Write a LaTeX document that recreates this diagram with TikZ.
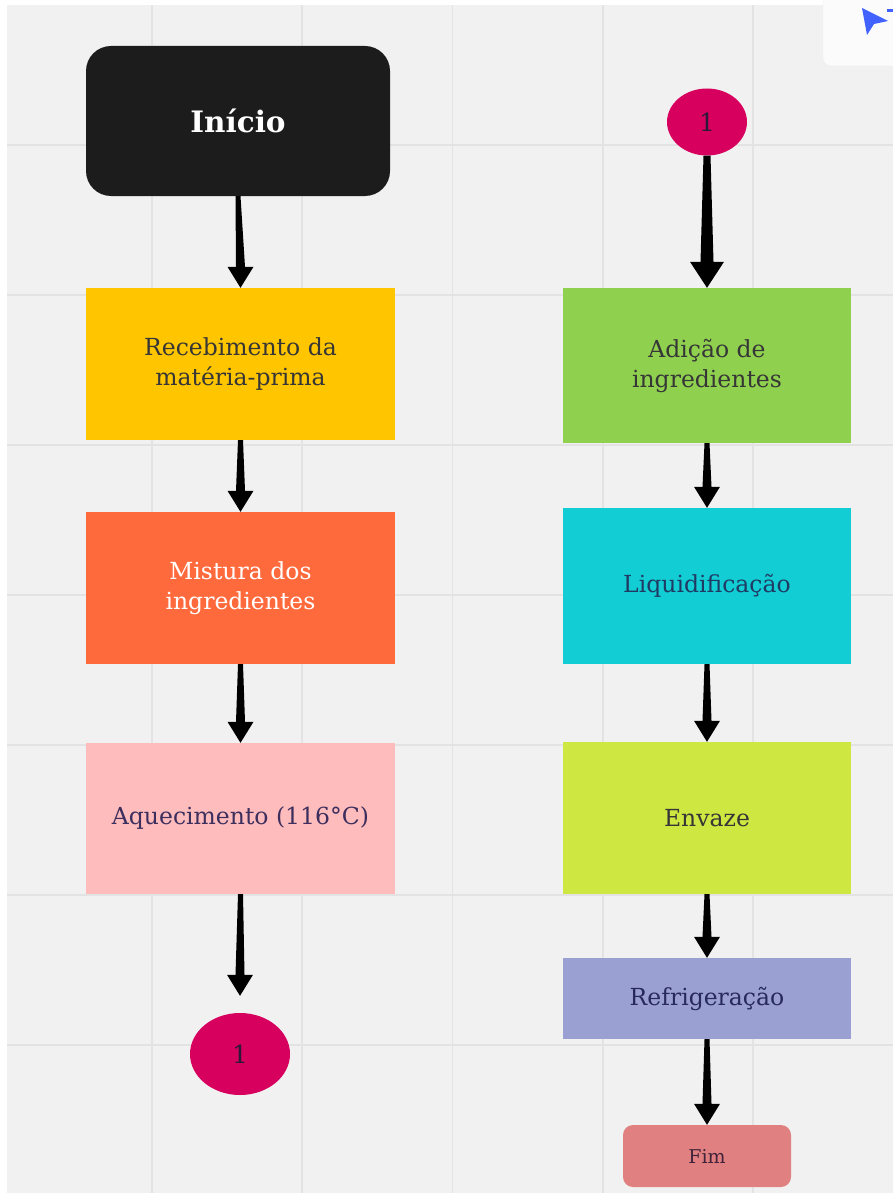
\documentclass[tikz,border=0pt]{standalone}
\usepackage{fontspec}
\setmainfont{DejaVu Serif}
\usetikzlibrary{shapes.geometric}

\definecolor{canvas}{HTML}{F1F1F1}
\definecolor{gridline}{HTML}{E3E3E3}
\definecolor{panel}{HTML}{FBFBFB}
\definecolor{cursorblue}{HTML}{4262FF}
\definecolor{cStart}{HTML}{1C1C1C}
\definecolor{cRec}{HTML}{FFC600}
\definecolor{cMix}{HTML}{FF6A3D}
\definecolor{cHeat}{HTML}{FFBCBC}
\definecolor{cLink}{HTML}{D8005F}
\definecolor{cAdd}{HTML}{8FD14F}
\definecolor{cLiq}{HTML}{12CDD4}
\definecolor{cFill}{HTML}{CEE741}
\definecolor{cCool}{HTML}{9AA0D2}
\definecolor{cEnd}{HTML}{E08080}
\definecolor{tDark}{HTML}{363636}
\definecolor{tPurple}{HTML}{3C2F5E}
\definecolor{tNavy}{HTML}{1F3B63}
\definecolor{tIndigo}{HTML}{28295C}
\definecolor{tPlum}{HTML}{40223A}
\definecolor{tLink}{HTML}{2A1A3A}

\tikzset{
  flowtail/.store in=\flowtail, flowneck/.store in=\flowneck,
  flowhead/.store in=\flowhead, flowlen/.store in=\flowlen,
  flowtail=2.5pt, flowneck=4.5pt, flowhead=13pt, flowlen=21pt,
  % tapered arrow: narrow tail, widening shaft, triangular head
  flow/.style={to path={
    ([xshift=-\flowtail]\tikztostart) -- ([xshift=\flowtail]\tikztostart)
    -- ([xshift=\flowneck,yshift=\flowlen]\tikztotarget)
    -- ([xshift=\flowhead,yshift=\flowlen]\tikztotarget)
    -- (\tikztotarget)
    -- ([xshift=-\flowhead,yshift=\flowlen]\tikztotarget)
    -- ([xshift=-\flowneck,yshift=\flowlen]\tikztotarget) -- cycle}},
  stepbox/.style={rectangle, inner sep=0pt, align=center,
    font=\fontsize{23.5}{30}\selectfont},
  linkdot/.style={ellipse, inner sep=0pt, fill=cLink, text=tLink,
    font=\fontsize{25}{28}\selectfont},
}

\begin{document}
\begin{tikzpicture}[x=1pt,y=-1pt]
\useasboundingbox (0,0) rectangle (893,1193);
\clip (0,0) rectangle (893,1193);

% board background and grid
\fill[white] (0,0) rectangle (893,1193);
\fill[canvas] (7,5) rectangle (893,1193);
\foreach \gx in {152,302,452.5,603,753}
  \draw[gridline, line width=1.2pt] (\gx,5) -- (\gx,1193);
\foreach \gy in {145,295,445,595,745,895,1045}
  \draw[gridline, line width=1.2pt] (7,\gy) -- (893,\gy);

% toolbar corner
\fill[panel, draw=gridline!60, rounded corners=8pt] (823,-12) rectangle (905,66);
\fill[cursorblue] (862,8) -- (888,21) -- (874,24) -- (867,35) -- cycle;
\fill[cursorblue] (887,9) rectangle (895,12);

% left column
\node[stepbox, rounded corners=25pt, fill=cStart, text=white,
  minimum width=304pt, minimum height=150pt,
  font=\fontsize{29.5}{36}\selectfont\bfseries] (ini) at (238,121) {Início};
\node[stepbox, fill=cRec, text=tDark, minimum width=309pt, minimum height=152pt]
  (rec) at (240.5,364) {Recebimento da\\matéria-prima};
\node[stepbox, fill=cMix, text=white, minimum width=309pt, minimum height=152pt]
  (mix) at (240.5,588) {Mistura dos\\ingredientes};
\node[stepbox, fill=cHeat, text=tPurple, minimum width=309pt, minimum height=151pt]
  (heat) at (240.5,818.5) {Aquecimento (116°C)};
\node[linkdot, minimum width=100pt, minimum height=82pt] (c1) at (240,1054) {1};
\coordinate (c1in) at ([yshift=17pt]c1.north);

% right column
\node[linkdot, minimum width=80pt, minimum height=67pt] (c2) at (707,122) {1};
\node[stepbox, fill=cAdd, text=tDark, minimum width=288pt, minimum height=155pt]
  (add) at (707,365.5) {Adição de\\ingredientes};
\node[stepbox, fill=cLiq, text=tNavy, minimum width=288pt, minimum height=156pt]
  (liq) at (707,586) {Liquidificação};
\node[stepbox, fill=cFill, text=tDark, minimum width=288pt, minimum height=152pt]
  (env) at (707,818) {Envaze};
\node[stepbox, fill=cCool, text=tIndigo, minimum width=288pt, minimum height=81pt]
  (cool) at (707,998.5) {Refrigeração};
\node[stepbox, rounded corners=10pt, fill=cEnd, text=tPlum,
  minimum width=168pt, minimum height=62pt,
  font=\fontsize{19}{22}\selectfont] (fim) at (707,1156) {Fim};

% connectors
\fill (ini.south) to[flow] (rec.north);
\fill (rec.south) to[flow] (mix.north);
\fill (mix.south) to[flow] (heat.north);
\fill (heat.south) to[flow] (c1in);
\fill[flowtail=3.5pt, flowneck=6.5pt, flowhead=17pt, flowlen=26pt]
  (c2.south) to[flow] (add.north);
\fill (add.south) to[flow] (liq.north);
\fill (liq.south) to[flow] (env.north);
\fill (env.south) to[flow] (cool.north);
\fill (cool.south) to[flow] (fim.north);
\end{tikzpicture}
\end{document}
